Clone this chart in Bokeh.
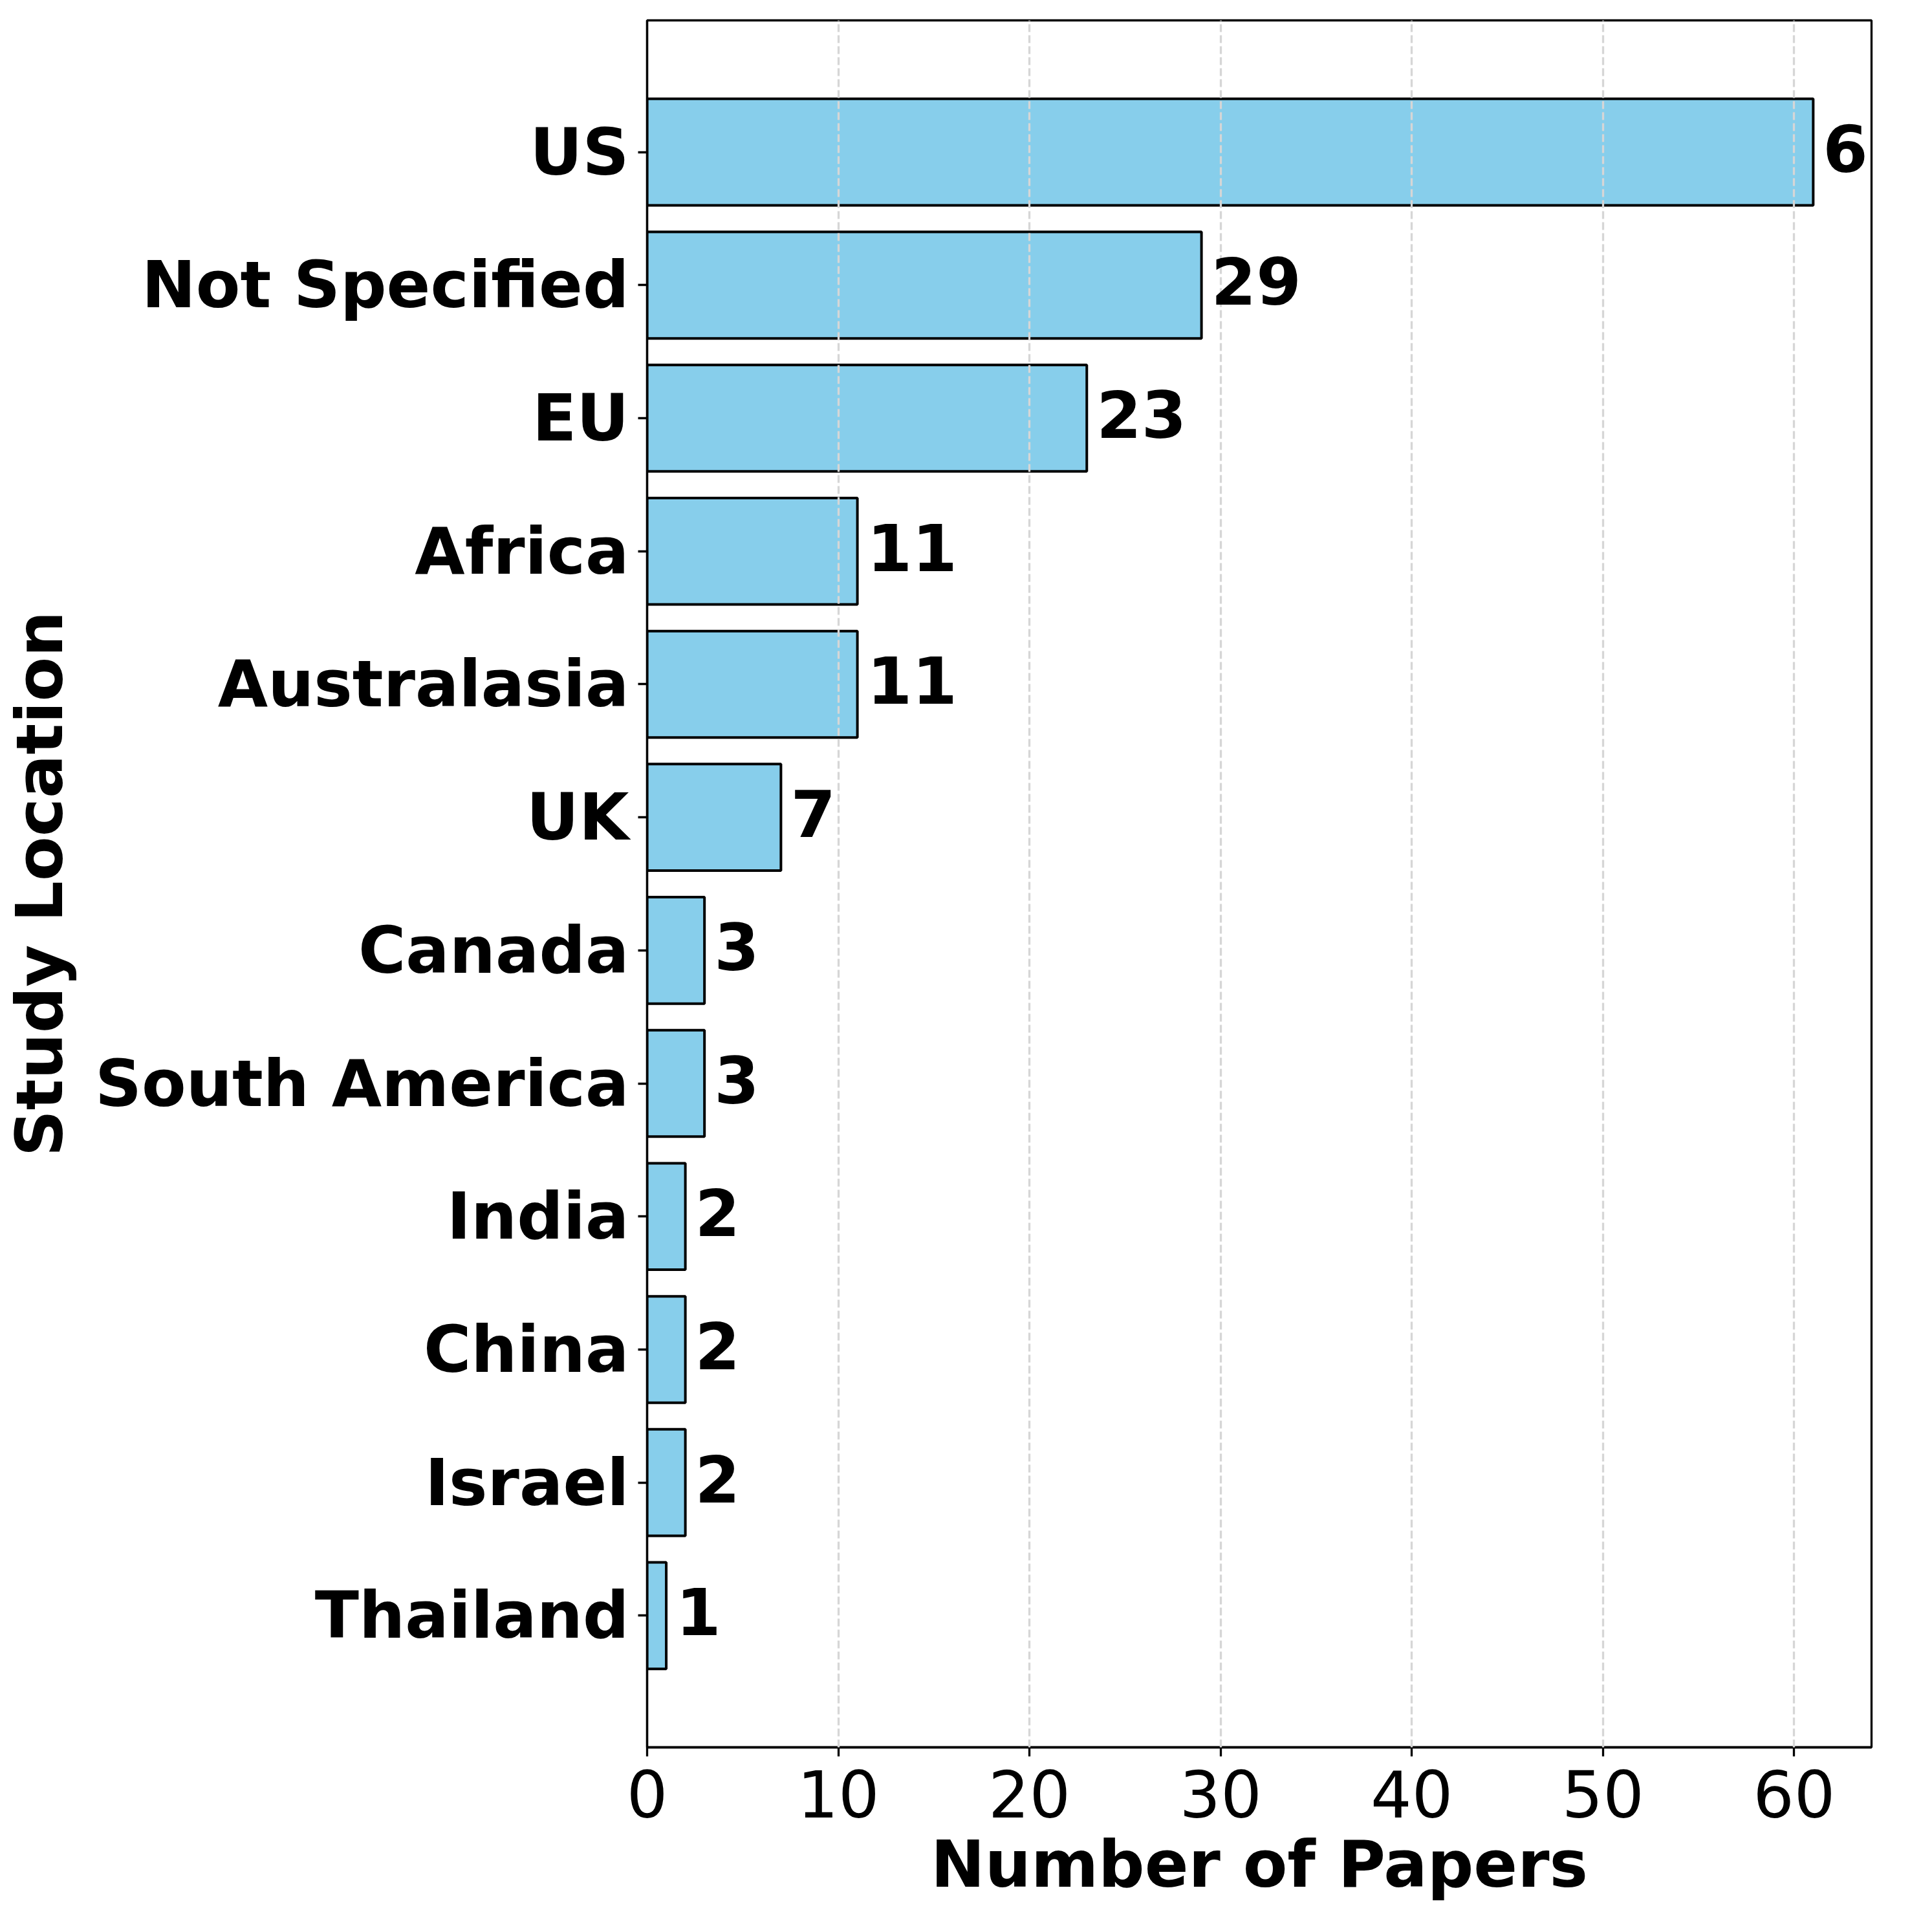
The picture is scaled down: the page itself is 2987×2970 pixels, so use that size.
from bokeh.plotting import figure
from bokeh.models import ColumnDataSource, Range1d, FixedTicker, Label
from bokeh.embed import file_html
from bokeh.resources import INLINE

locations = ["US", "Not Specified", "EU", "Africa", "Australasia", "UK",
             "Canada", "South America", "India", "China", "Israel", "Thailand"]
papers = [61, 29, 23, 11, 11, 7, 3, 3, 2, 2, 2, 1]
x_ticks = [0, 10, 20, 30, 40, 50, 60]

FONT = "DejaVu Sans"
SIZE = "75pt"   # = 100px (written in pt to avoid the "100" weight mis-parse)

# bottom-to-top order (Thailand at 0, US at top)
n_cat = len(locations)
y_pos = [n_cat - 1 - i for i in range(n_cat)]

src = ColumnDataSource(dict(y=y_pos, n=papers))

p = figure(width=2987, height=2970,
           y_range=Range1d(-0.99, n_cat - 1 + 0.99),
           x_range=Range1d(0, max(papers) * 1.05),
           output_backend="svg", toolbar_location=None,
           min_border_left=999, min_border_right=94, min_border_top=31, min_border_bottom=269)

p.background_fill_color = "white"
p.border_fill_color = "white"
p.outline_line_color = "black"
p.outline_line_width = 3.3

p.hbar(y="y", left=0, right="n", height=0.8, source=src,
       fill_color="#87CEEB", line_color="black", line_width=4)

for yv, nv in zip(y_pos, papers):
    p.add_layout(Label(x=nv, y=yv, text=str(nv), x_offset=15, y_offset=6,
                       text_align="left", text_baseline="middle",
                       text_font=FONT, text_font_size=SIZE, text_font_style="bold",
                       text_color="black"))

p.xgrid.ticker = FixedTicker(ticks=x_ticks[1:])
p.xgrid.grid_line_color = "#d6d6d6"
p.xgrid.grid_line_dash = "12 5"
p.xgrid.grid_line_width = 3.3
p.xgrid.level = "guide"
p.ygrid.grid_line_color = None

for ax in (p.xaxis[0], p.yaxis[0]):
    ax.axis_line_width = 3.3
    ax.axis_line_color = "black"
    ax.major_tick_line_width = 3.3
    ax.major_tick_line_color = "black"
    ax.major_tick_out = 14
    ax.major_tick_in = 0
    ax.minor_tick_line_color = None
    ax.major_label_text_font = FONT
    ax.major_label_text_font_size = SIZE
    ax.major_label_text_color = "black"
    ax.axis_label_text_font = FONT
    ax.axis_label_text_font_size = SIZE
    ax.axis_label_text_font_style = "bold"
    ax.axis_label_text_color = "black"

p.xaxis.ticker = FixedTicker(ticks=x_ticks)
p.xaxis.axis_label = "Number of Papers"
p.xaxis.major_label_standoff = 21
p.xaxis.axis_label_standoff = 11

p.yaxis.ticker = FixedTicker(ticks=y_pos)
p.yaxis.major_label_overrides = {y: name for y, name in zip(y_pos, locations)}
p.yaxis.axis_label = "Study Location"
p.yaxis.major_label_text_font_style = "bold"
p.yaxis.major_label_standoff = 14
p.yaxis.axis_label_standoff = 24

open("out.html", "w").write(file_html(p, INLINE))
